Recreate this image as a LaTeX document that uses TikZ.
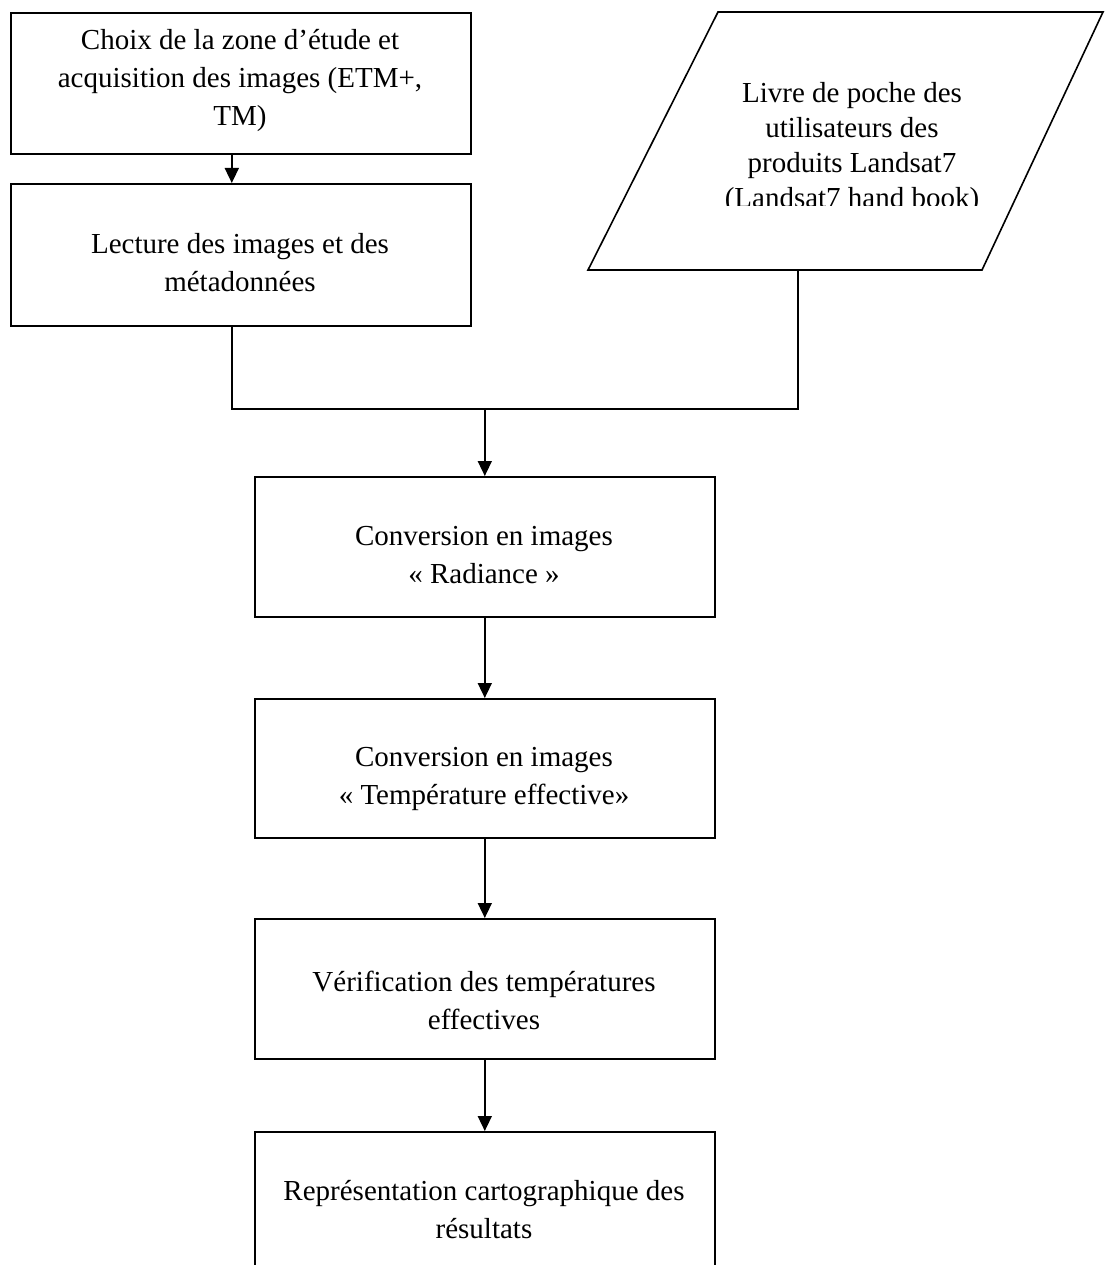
\documentclass[tikz,border=0pt]{standalone}
\usepackage{fontspec}
\setmainfont{Liberation Serif}
\usetikzlibrary{arrows.meta}
\newcommand{\ttab}[1]{\begin{tabular}[t]{@{}c@{}}#1\end{tabular}}
\begin{document}
\begin{tikzpicture}[x=1pt,y=-1pt,
  box/.style={draw, line width=1.6pt, minimum width=460pt, inner sep=0pt, anchor=north west},
  txt/.style={anchor=base, inner sep=0pt, font=\fontsize{29}{38}\selectfont},
  ptxt/.style={anchor=base, inner sep=0pt, font=\fontsize{29}{35}\selectfont},
  link/.style={line width=1.6pt},
  arr/.style={line width=1.6pt, -{Triangle[length=15pt,width=14pt]}}]
\useasboundingbox (0,0) rectangle (1105,1265);
\fill[white] (0,0) rectangle (1105,1265);

% boxes
\node[box, minimum height=141pt] (b1) at (10,12) {};
\node[box, minimum height=142pt] (b2) at (10,183) {};
\node[box, minimum height=140pt] (b3) at (254,476) {};
\node[box, minimum height=139pt] (b4) at (254,698) {};
\node[box, minimum height=140pt] (b5) at (254,918) {};
\node[box, minimum height=150pt] (b6) at (254,1131) {};

% parallelogram
\coordinate (pbl) at (588,270);
\coordinate (pbr) at (982,270);
\coordinate (ptr) at (1103,12);
\coordinate (ptl) at (718,12);
\draw[line width=1.6pt, line join=miter] (pbl) -- (pbr) -- (ptr) -- (ptl) -- cycle;

% texts
\node[txt] (t1) at (240,50) {\ttab{Choix de la zone d’étude et\\acquisition des images (ETM+,\\TM)}};
\node[txt] (t2) at (240,253) {\ttab{Lecture des images et des\\métadonnées}};
\begin{scope}
  \clip (600,20) rectangle (1100,206);
  \node[ptxt] (tp) at (852,103) {\ttab{Livre de poche des\\utilisateurs des\\produits Landsat7\\(Landsat7 hand book)}};
\end{scope}
\node[txt] (t3) at (484,545) {\ttab{Conversion en images\\« Radiance »}};
\node[txt] (t4) at (484,766) {\ttab{Conversion en images\\« Température effective»}};
\node[txt] (t5) at (484,991) {\ttab{Vérification des températures\\effectives}};
\node[txt] (t6) at (484,1200) {\ttab{Représentation cartographique des\\résultats}};

% connectors
\coordinate (pc) at (798,270);
\coordinate (jr) at (798,409);
\coordinate (jm) at (b3.north |- jr);
\draw[arr] ([xshift=-9pt]b1.south) -- ([xshift=-9pt]b2.north);
\draw[link] ([xshift=-9pt]b2.south) |- (jr) -- (pc);
\draw[arr] (jm) -- (b3.north);
\draw[arr] (b3.south) -- (b4.north);
\draw[arr] (b4.south) -- (b5.north);
\draw[arr] (b5.south) -- (b6.north);
\end{tikzpicture}
\end{document}
